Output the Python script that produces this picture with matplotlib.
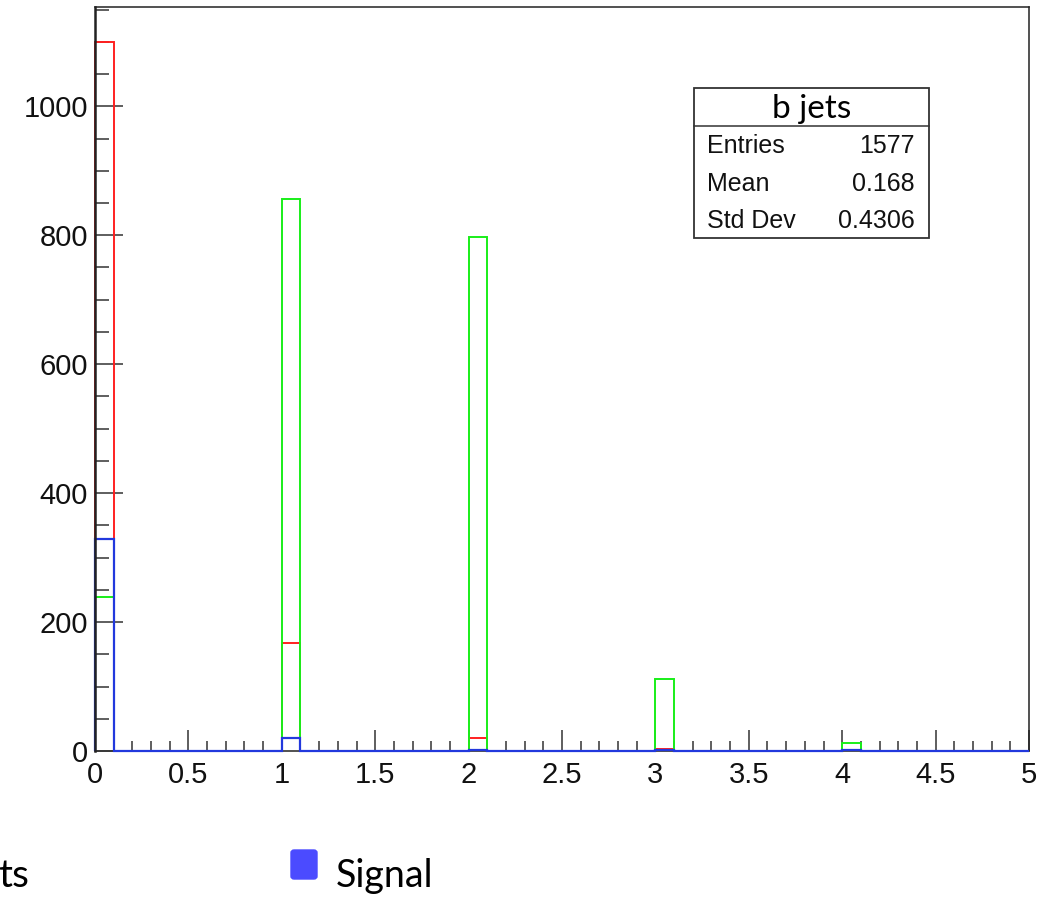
import numpy as np
import matplotlib
matplotlib.use("Agg")
import matplotlib.pyplot as plt
from matplotlib.patches import Rectangle, FancyBboxPatch
from matplotlib.ticker import MultipleLocator

# ---- data (counts per integer bin, bin width 0.1 starting at each integer) ----
bin_starts = [0, 1, 2, 3, 4]
red_counts = [1099, 167, 20, 3, 1]
green_counts = [239, 856, 797, 112, 12]
blue_counts = [329, 20, 1, 1, 1]

n_bins = 50
x_min, x_max = 0.0, 5.0
y_max = 1154

stats_title = "b jets"
stats_labels = ["Entries", "Mean", "Std Dev"]
stats_values = ["1577", "0.168", "0.4306"]

legend_labels = ["ts", "Signal"]

W, H = 1056, 899
fig = plt.figure(figsize=(W / 100, H / 100), dpi=100)

def fx(px):
    return px / W

def fy(py):
    return 1 - py / H

ax = fig.add_axes([fx(95), fy(751), fx(1029) - fx(95), fy(7) - fy(751)])

edges = np.linspace(x_min, x_max, n_bins + 1)

def full(counts):
    arr = np.zeros(n_bins)
    for s, c in zip(bin_starts, counts):
        arr[int(round(s * 10))] = c
    return arr

ax.stairs(full(red_counts), edges, color="#ff2020", lw=1.4, baseline=0, zorder=3, clip_on=False)
ax.stairs(full(green_counts), edges, color="#19ee19", lw=1.4, baseline=0, zorder=3.1, clip_on=False)
ax.stairs(full(blue_counts), edges, color="#2238dd", lw=1.6, baseline=0, zorder=3.2, clip_on=False)

ax.set_xlim(x_min, x_max)
ax.set_ylim(0, y_max)

ax.xaxis.set_minor_locator(MultipleLocator(0.1))
ax.yaxis.set_minor_locator(MultipleLocator(50))

ax.set_xticks([0, 0.5, 1, 1.5, 2, 2.5, 3, 3.5, 4, 4.5, 5])
ax.set_xticklabels(["0", "0.5", "1", "1.5", "2", "2.5", "3", "3.5", "4", "4.5", "5"])
ax.set_yticks([0, 200, 400, 600, 800, 1000])
ax.set_yticklabels(["0", "200", "400", "600", "800", "1000"])

for lab in ax.get_xticklabels() + ax.get_yticklabels():
    lab.set_fontfamily("Liberation Sans")
    lab.set_fontsize(21)
    lab.set_color("#111111")

ax.tick_params(axis="x", which="major", direction="in", length=15, width=1.1, color="#333333", pad=7, top=False)
ax.tick_params(axis="x", which="minor", direction="in", length=7.5, width=1.1, color="#333333", top=False)
ax.tick_params(axis="y", which="major", direction="in", length=20, width=1.1, color="#333333", pad=5, right=False)
ax.tick_params(axis="y", which="minor", direction="in", length=10, width=1.1, color="#333333", right=False)

for side, sp in ax.spines.items():
    sp.set_linewidth(1.1)
    sp.set_color("#222222")
ax.spines["left"].set_linewidth(1.8)
ax.spines["left"].set_zorder(5)
ax.spines["bottom"].set_zorder(1)

# ---- stats box ----
x0, y0, x1, y1 = 694, 88, 929, 238
fig.patches.append(Rectangle((fx(x0), fy(y1)), fx(x1) - fx(x0), fy(y0) - fy(y1),
                             transform=fig.transFigure, facecolor="white",
                             edgecolor="#333333", lw=1.3, zorder=5))
fig.lines.append(plt.Line2D([fx(x0), fx(x1)], [fy(126), fy(126)],
                            transform=fig.transFigure, color="#333333", lw=1.1, zorder=6))
fig.text(fx((x0 + x1) / 2), fy(118), stats_title, ha="center", va="baseline",
         family="Lato", fontsize=24, zorder=7)
row_y = [153, 191, 228]
for lab, val, yy in zip(stats_labels, stats_values, row_y):
    fig.text(fx(707), fy(yy), lab, ha="left", va="baseline",
             family="Liberation Sans", fontsize=18, zorder=7, color="#111111")
    fig.text(fx(915), fy(yy), val, ha="right", va="baseline",
             family="Liberation Sans", fontsize=18, zorder=7, color="#111111")

# ---- legend below ----
fig.patches.append(FancyBboxPatch((fx(291), fy(879)), fx(317) - fx(291), fy(850) - fy(879),
                                  boxstyle="round,pad=0,rounding_size=0.003",
                                  transform=fig.transFigure, facecolor="#4b4bff",
                                  edgecolor="#4b4bff", lw=1))
fig.text(fx(-2), fy(887), legend_labels[0], ha="left", va="baseline",
         family="Lato", fontsize=28)
fig.text(fx(336), fy(887), legend_labels[1], ha="left", va="baseline",
         family="Lato", fontsize=27)

fig.savefig("out.png", dpi=100)
